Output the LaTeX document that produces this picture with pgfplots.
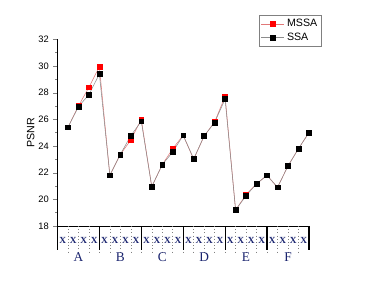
\documentclass[border=0pt]{standalone}
\usepackage{fontspec}
\setmainfont{Liberation Sans}
\newfontfamily\seriffont{Liberation Serif}
\usepackage{pgfplots}
\pgfplotsset{compat=1.18}
\definecolor{mssaline}{RGB}{225,120,120}
\definecolor{ssaline}{RGB}{140,140,140}
\definecolor{navy}{RGB}{25,35,110}
\begin{document}
\begin{tikzpicture}
\path[use as bounding box] (0,0) rectangle (280.5pt,211.5pt);
\begin{axis}[
  at={(43.1pt,42pt)}, anchor=south west,
  scale only axis, width=188.6pt, height=140pt,
  xmin=0, xmax=24, ymin=18, ymax=32,
  axis lines*=left,
  clip=false,
  ytick={18,20,...,32}, minor y tick num=1,
  tick align=outside,
  major tick length=3pt, minor tick length=1.6pt,
  xtick={0.5,1.5,...,23.5},
  xticklabel={\seriffont\bfseries\scriptsize X},
  xticklabel style={yshift=-2pt, text=navy},
  xtick style={draw=none},
  minor xtick={1,...,23},
  every minor tick/.append style={thin},
  tick label style={font=\scriptsize},
  /pgf/number format/assume math mode=true,
  ylabel={PSNR}, ylabel style={font=\footnotesize, yshift=-4pt},
  legend style={at={(1.05,1.13)}, anchor=north east, font=\footnotesize,
    draw=gray, inner sep=1pt, row sep=-1pt},
  legend cell align=left,
]
\addplot[mssaline, mark=square*, mark size=1.8pt, mark options={fill=red, draw=red}] coordinates {
(1,25.4) (2,27.0) (3,28.4) (4,29.95)
(5,21.8) (6,23.37) (7,24.45) (8,26.0)
(9,20.95) (10,22.6) (11,23.8) (12,24.8)
(13,23.0) (14,24.75) (15,25.8) (16,27.72)
(17,19.2) (18,20.35) (19,21.17) (20,21.8)
(21,20.9) (22,22.5) (23,23.8) (24,25.0)
};
\addlegendentry{MSSA}
\addplot[ssaline, mark=square*, mark size=1.8pt, mark options={fill=black, draw=black}] coordinates {
(1,25.4) (2,26.95) (3,27.85) (4,29.4)
(5,21.8) (6,23.37) (7,24.77) (8,25.85)
(9,20.95) (10,22.6) (11,23.55) (12,24.8)
(13,23.04) (14,24.75) (15,25.77) (16,27.52)
(17,19.2) (18,20.27) (19,21.17) (20,21.8)
(21,20.9) (22,22.5) (23,23.8) (24,25.0)
};
\addlegendentry{SSA}
\pgfplotsinvokeforeach{1,...,23}{
  \draw[dotted, gray] (axis cs:#1,18) -- ++(0pt,-20pt);
}
\pgfplotsinvokeforeach{0,4,...,24}{
  \draw[line width=0.9pt] (axis cs:#1,18) -- ++(0pt,-18pt);
}
\node[font=\seriffont, text=navy, yshift=-23pt] at (axis cs:2,18) {A};
\node[font=\seriffont, text=navy, yshift=-23pt] at (axis cs:6,18) {B};
\node[font=\seriffont, text=navy, yshift=-23pt] at (axis cs:10,18) {C};
\node[font=\seriffont, text=navy, yshift=-23pt] at (axis cs:14,18) {D};
\node[font=\seriffont, text=navy, yshift=-23pt] at (axis cs:18,18) {E};
\node[font=\seriffont, text=navy, yshift=-23pt] at (axis cs:22,18) {F};
\end{axis}
\end{tikzpicture}
\end{document}
